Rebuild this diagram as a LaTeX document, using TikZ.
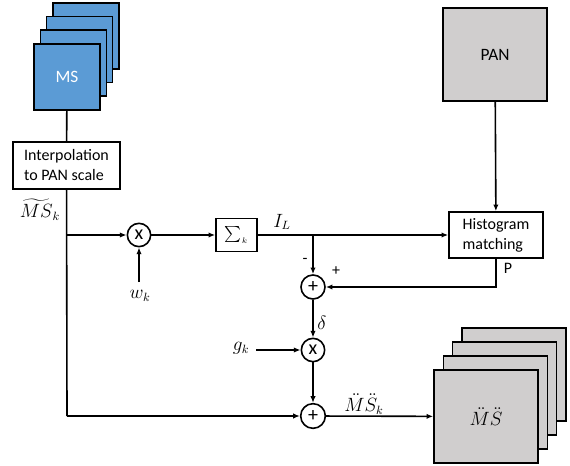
\documentclass[tikz,border=0pt]{standalone}
\usepackage{amsmath,amssymb}
\usepackage{fontspec}
\setmainfont{Carlito}
\usetikzlibrary{arrows.meta,positioning}
\definecolor{msblue}{HTML}{5B9BD5}
\definecolor{pangray}{HTML}{D0CECE}

\begin{document}
\begin{tikzpicture}[
  x=0.75pt,y=-0.75pt,
  line width=1.2pt,
  font=\fontsize{12}{15}\selectfont,
  band/.style={draw,fill=msblue,minimum width=49.5pt,minimum height=49.5pt,text=white},
  gband/.style={draw,fill=pangray,minimum width=78pt,minimum height=69.75pt},
  box/.style={draw,fill=white,align=left,inner sep=3pt},
  op/.style={draw,circle,fill=white,minimum size=17.5pt,inner sep=0pt,font=\fontsize{15}{15}\selectfont},
  lab/.style={inner sep=1pt,font=\fontsize{13.5}{14}\selectfont},
  arrow/.style={-{Latex[length=5pt,width=4pt]}}
]
\useasboundingbox (0,0) rectangle (570,466);

% multispectral stack
\node[band] (ms3) at (86,36) {};
\node[band] (ms2) at (79.6,49.6) {};
\node[band] (ms1) at (73.3,63.3) {};
\node[band,font=\fontsize{13}{15}\selectfont] (ms) at (67,77) {MS};

% panchromatic image
\node[gband,font=\fontsize{13}{15}\selectfont] (pan) at (495,54.5) {PAN};

% processing blocks
\node[box,minimum width=80.25pt,minimum height=35.25pt] (interp) at (66.5,165.5) {Interpolation\\to PAN scale};
\node[draw,minimum width=30.75pt,minimum height=24.75pt,inner sep=1pt] (sum) at (236.5,235) {$\sum_{\scriptscriptstyle k}$};
\node[box,minimum width=70.5pt,minimum height=34.5pt] (hist) at (496,235) {Histogram\\matching};

% operators
\node[op] (mul1) at (139,235) {x};
\node[op,minimum size=18pt] (add1) at (313,287) {+};
\node[op] (mul2) at (313,350) {x};
\node[op,minimum size=18.5pt] (add2) at (313,416) {+};

% output stack
\node[gband] (out3) at (514,374.5) {};
\node[gband] (out2) at (504.6,388.5) {};
\node[gband] (out1) at (495.3,402.5) {};
\node[gband,lab] (out) at (486,416.5) {$\ddot{M}\ddot{S}$};

% helper points
\coordinate (trunk) at (67,235);
\coordinate (corner) at (67,416);
\coordinate (tap) at (313,235);
\coordinate (pturn) at (496,287);
\coordinate (wsrc) at (139,282);
\coordinate (gsrc) at (256,350);

% labels
\node[lab] (mstilde) at (40,210) {$\widetilde{MS}_k$};
\node[lab] (wk) at (140,296) {$w_k$};
\node[lab] (il) at (282,222) {$I_L$};
\node (minus) at (305,261) {-};
\node (plus) at (336,271) {+};
\node (plab) at (508,268) {P};
\node[lab] (delta) at (322,323) {$\delta$};
\node[lab] (gk) at (241,348) {$g_k$};
\node[lab] (msk) at (364,404) {$\ddot{M}\ddot{S}_k$};

% connections
\draw (ms) -- (interp);
\draw (interp) -- (corner);
\draw[arrow] (corner) -- (add2);
\draw[arrow] (trunk) -- (mul1);
\draw[arrow] (wsrc) -- (mul1);
\draw[arrow] (mul1) -- (sum);
\draw[arrow] (sum) -- (hist);
\draw[arrow] (pan) -- (hist);
\draw[arrow] (tap) -- (add1);
\draw[arrow] (hist.south) -- (pturn) -- (add1);
\draw[arrow] (add1) -- (mul2);
\draw[arrow] (gsrc) -- (mul2);
\draw[arrow] (mul2) -- (add2);
\draw[arrow] (add2) -- (out);
\end{tikzpicture}
\end{document}
